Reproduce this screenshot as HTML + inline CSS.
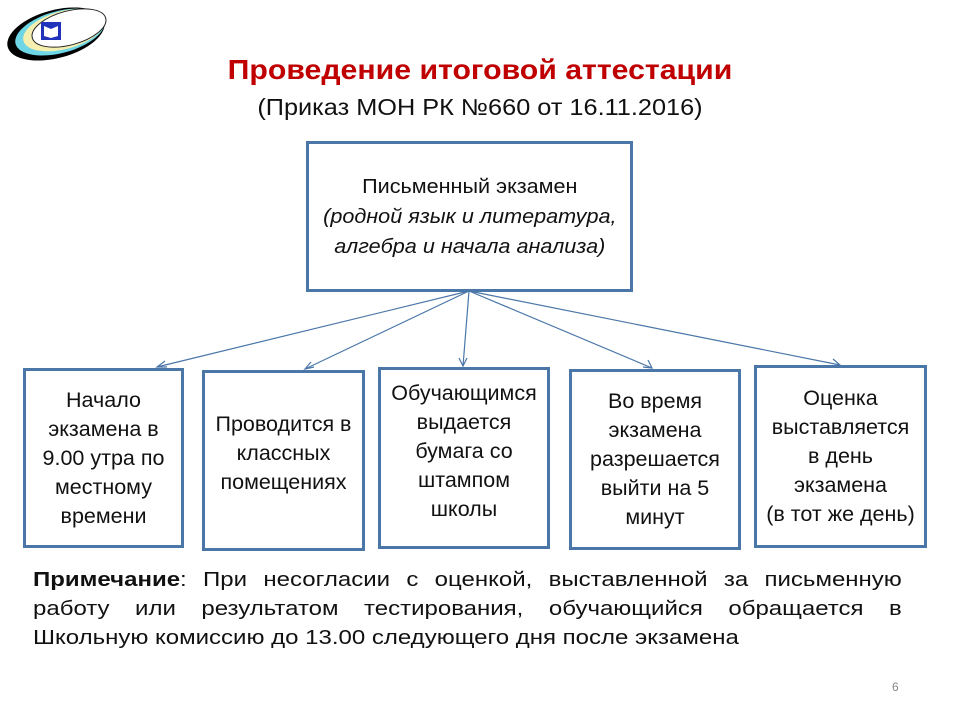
<!DOCTYPE html>
<html><head><meta charset="utf-8"><style>
body{margin:0;width:960px;height:720px;background:#fff;position:relative;font-family:"Liberation Sans",sans-serif;overflow:hidden}
.b{position:absolute;border:3px solid #4a76a8;box-sizing:border-box;display:flex;align-items:center;justify-content:center;text-align:center;font-size:21.5px;line-height:29px;color:#111}
.t{position:absolute;width:960px;text-align:center}
.n{position:absolute;left:33px;width:724px;font-size:20px;color:#111;text-align:justify;text-align-last:justify;white-space:nowrap;transform:scaleX(1.2);transform-origin:0 0}
</style></head><body>
<svg style="position:absolute;left:0;top:0" width="960" height="720">
<ellipse cx="56" cy="34" rx="50" ry="24" fill="#000" transform="rotate(-15 56 34)"/>
<ellipse cx="60" cy="32" rx="46" ry="21" fill="#6fd6e6" transform="rotate(-15 60 32)"/>
<ellipse cx="64" cy="30" rx="42" ry="19" fill="#f6f0b0" transform="rotate(-15 64 30)"/>
<ellipse cx="69" cy="28" rx="38" ry="17" fill="#fff" stroke="#222" stroke-width="1" transform="rotate(-15 69 28)"/>
<rect x="41" y="22" width="20" height="18" fill="#2233bb"/>
<path d="M44 26 L51 29 L58 26 L58 36 L51 38 L44 36Z" fill="#fff"/>
<g stroke="#4a76a8" stroke-width="1.2" fill="none">
<line x1="469" y1="291" x2="157" y2="367"/><path d="M165 361 L157 367 L167 367"/>
<line x1="469" y1="291" x2="305" y2="369"/><path d="M311 362 L305 369 L314 367"/>
<line x1="469" y1="291" x2="463" y2="366"/><path d="M459 358 L463 366 L467 358"/>
<line x1="469" y1="291" x2="652" y2="368"/><path d="M643 367 L652 368 L648 360"/>
<line x1="469" y1="291" x2="840" y2="365"/><path d="M831 367 L840 365 L833 359"/>
</g></svg>
<div class="t" style="top:54px;font-size:28px;font-weight:bold;color:#c00000;transform:scaleX(1.08)">Проведение итоговой аттестации</div>
<div class="t" style="top:94px;font-size:23px;color:#111;transform:scaleX(1.1)">(Приказ МОН РК №660 от 16.11.2016)</div>
<div class="b" style="left:306px;top:141px;width:327px;height:151px;font-size:20px;line-height:30px"><div style="transform:scaleX(1.08)">Письменный экзамен<br><i>(родной язык и литература,<br>алгебра и начала анализа)</i></div></div>
<div class="b" style="left:23px;top:368px;width:161px;height:180px"><div>Начало<br>экзамена в<br>9.00 утра по<br>местному<br>времени</div></div>
<div class="b" style="left:202px;top:370px;width:163px;height:181px"><div style="margin-top:-14px">Проводится в<br>классных<br>помещениях</div></div>
<div class="b" style="left:378px;top:367px;width:172px;height:182px"><div style="margin-top:-14px">Обучающимся<br>выдается<br>бумага со<br>штампом<br>школы</div></div>
<div class="b" style="left:569px;top:369px;width:172px;height:181px"><div>Во время<br>экзамена<br>разрешается<br>выйти на 5<br>минут</div></div>
<div class="b" style="left:754px;top:365px;width:173px;height:183px"><div>Оценка<br>выставляется<br>в день<br>экзамена<br>(в тот же день)</div></div>
<div class="n" style="top:569px"><b>Примечание</b>: При несогласии с оценкой, выставленной за письменную</div>
<div class="n" style="top:598px">работу или результатом тестирования, обучающийся обращается в</div>
<div class="n" style="top:627px;text-align-last:left">Школьную комиссию до 13.00 следующего дня после экзамена</div>
<div style="position:absolute;left:892px;top:680px;font-size:12px;color:#888">6</div>
</body></html>
